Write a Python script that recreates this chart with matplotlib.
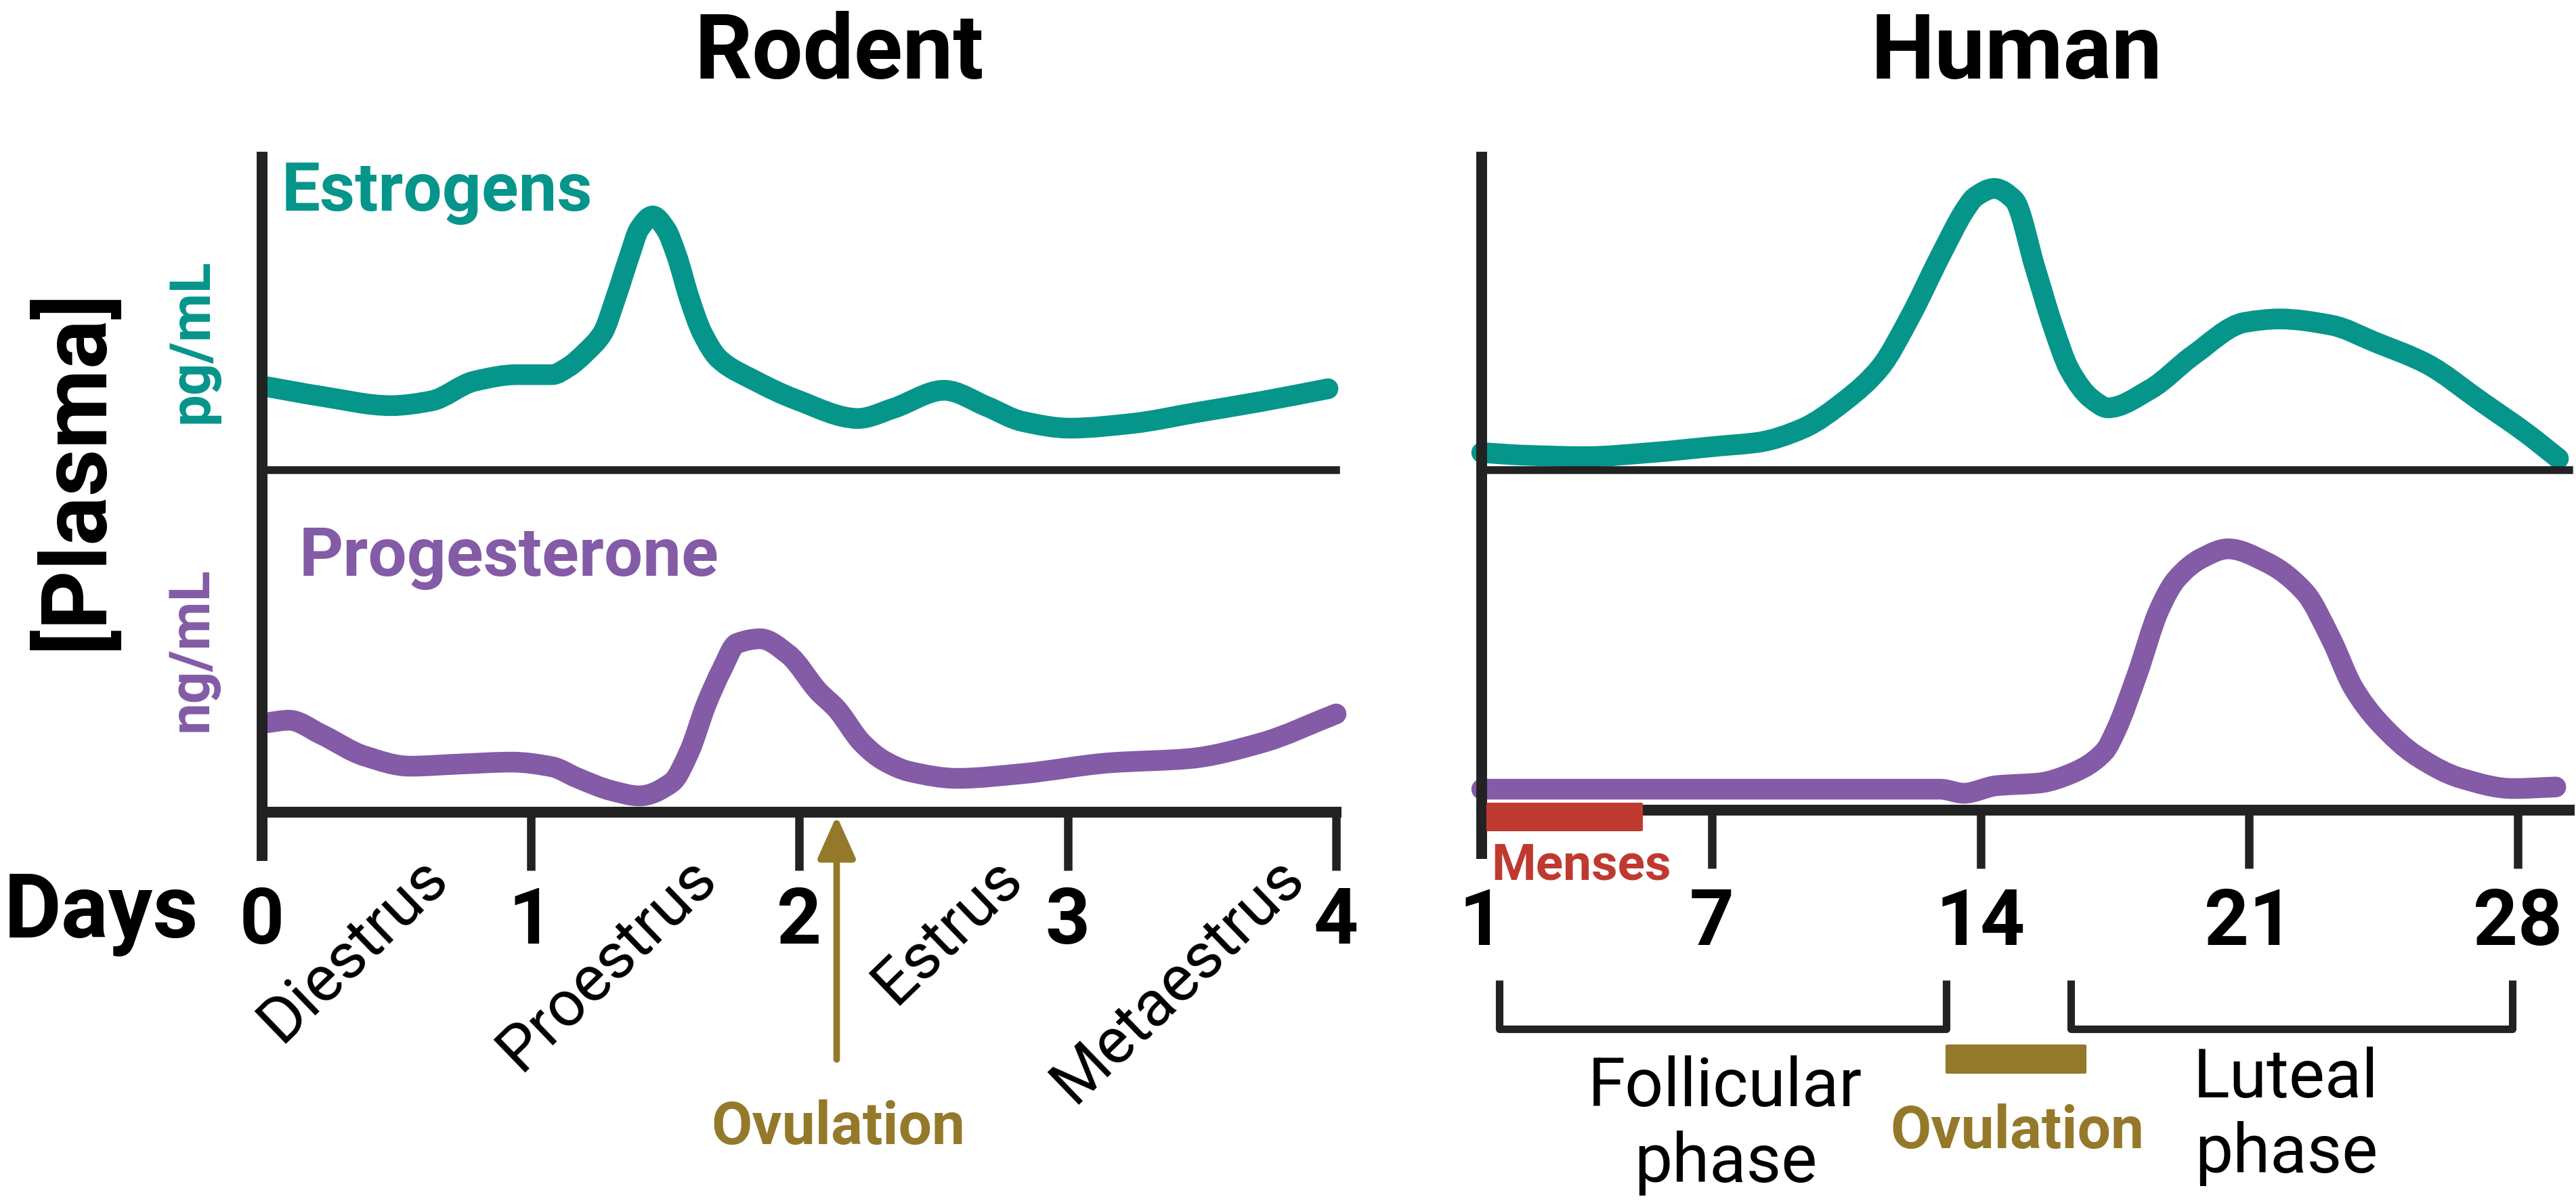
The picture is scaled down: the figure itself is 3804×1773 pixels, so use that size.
import matplotlib
matplotlib.use('Agg')
import matplotlib.pyplot as plt
from matplotlib.transforms import blended_transform_factory, Affine2D
from matplotlib.patches import Rectangle, PathPatch
from matplotlib.path import Path

plt.rcParams['font.family'] = ['Roboto', 'DejaVu Sans']

# ---------------- data ----------------
rodent_ticks = [0, 1, 2, 3, 4]
rodent_ticklabels = ['0', '1', '2', '3', '4']
rodent_phases = ['Diestrus', 'Proestrus', 'Estrus', 'Metaestrus']

rodent_est_days = [0.02, 0.22, 0.48, 0.63, 0.79, 0.95, 1.08, 1.14, 1.206, 1.269, 1.317,
                   1.369, 1.405, 1.455, 1.503, 1.544, 1.591, 1.639, 1.702, 1.831, 1.99,
                   2.22, 2.35, 2.54, 2.70, 2.83, 3.01, 3.24, 3.48, 3.72, 3.97]
rodent_est = [26.6, 23.6, 20.6, 22.1, 28.4, 30.5, 30.5, 32.9, 37.7, 43.9, 55.0,
              68.6, 77.1, 81.2, 77.1, 68.6, 55.0, 43.9, 35.5, 28.8, 22.5,
              16.5, 19.7, 25.5, 20.3, 15.6, 13.4, 14.9, 18.4, 21.9, 26.0]

rodent_prog_days = [0.02, 0.10, 0.22, 0.38, 0.55, 0.74, 0.93, 1.08, 1.173, 1.301, 1.405,
                    1.526, 1.591, 1.654, 1.712, 1.768, 1.856, 1.96, 2.073, 2.139, 2.235,
                    2.315, 2.411, 2.59, 2.83, 3.16, 3.45, 3.72, 4.0]
rodent_prog = [28.6, 29.4, 24.9, 18.0, 14.7, 15.4, 16.0, 14.5, 11.0, 6.9, 5.2,
               9.5, 19.3, 34.4, 45.5, 53.9, 55.4, 50.4, 38.5, 33.1, 22.1,
               16.5, 13.0, 10.8, 12.3, 15.8, 17.1, 22.1, 31.4]

human_ticks = [1, 7, 14, 21, 28]
human_ticklabels = ['1', '7', '14', '21', '28']

human_est_days = [1.0, 2.04, 3.72, 5.41, 7.11, 8.22, 9.35, 10.48, 11.38, 12.17, 12.95,
                  13.63, 13.85, 14.36, 14.87, 15.43, 15.88, 16.33, 16.88, 17.32,
                  18.42, 19.55, 20.89, 21.79, 23.15, 24.28, 25.62, 27.08, 28.21, 29.06]
human_est = [5.6, 4.8, 4.3, 5.6, 7.6, 8.9, 13.2, 22.3, 32.7, 49.1, 68.4,
             83.8, 87.2, 90.0, 86.4, 64.3, 46.3, 31.8, 22.9, 19.9,
             25.8, 36.8, 47.2, 48.3, 46.3, 40.9, 34.0, 21.6, 11.9, 3.7]

human_prog_days = [1.0, 6.5, 11.9, 12.95, 13.56, 14.41, 15.54, 16.44, 17.23, 17.52,
                   18.08, 18.65, 19.09, 19.76, 20.45, 21.45, 22.46, 23.15, 23.71,
                   24.38, 25.39, 26.52, 27.87, 28.99]
human_prog = [6.7, 6.7, 6.7, 6.7, 5.4, 7.8, 8.7, 12.1, 18.8, 25.3,
              43.3, 63.9, 73.6, 80.5, 83.5, 79.2, 69.5, 54.3, 39.2,
              28.1, 17.1, 10.2, 6.9, 7.4]

menses_days = (1.15, 5.17)
ovulation_days = (13.12, 16.72)
follicular_days = (1.46, 13.1)
luteal_days = (16.35, 27.86)

# ---------------- style ----------------
W, H = 3804, 1774
DARK = '#222222'
TEAL = '#06958B'
PURPLE = '#835BA6'
RED = '#BE3A31'
GOLD = '#95792B'
PXU = 4.62  # pixels per value unit
LW = 22

fig = plt.figure(figsize=(W / 100, H / 100), dpi=100)
px = Affine2D().scale(1, -1).translate(0, H)  # (x px, y px from top) -> display


def rect(x0, yt, x1, yb):
    return [x0 / W, 1 - yb / H, (x1 - x0) / W, (yb - yt) / H]


def make_panel(x0, x1, xlim, base_bottom, ticks, ticklabels, pad):
    axT = fig.add_axes(rect(x0, 233, x1, 695))
    axB = fig.add_axes(rect(x0, 695, x1, base_bottom))
    for ax in (axT, axB):
        ax.set_xlim(*xlim)
        ax.patch.set_visible(False)
        for s in ('top', 'right'):
            ax.spines[s].set_visible(False)
        ax.spines['left'].set_color(DARK)
        ax.spines['bottom'].set_color(DARK)
        ax.set_yticks([])
    axT.set_ylim(0, (695 - 233) / PXU)
    axB.set_ylim(0, (base_bottom - 695) / PXU)
    axT.spines['left'].set_linewidth(11.5)
    axT.spines['bottom'].set_linewidth(8.3)
    axB.spines['left'].set_linewidth(11.5)
    axB.spines['bottom'].set_linewidth(11.5)
    axT.set_xticks([])
    axB.set_xticks(ticks)
    axB.set_xticklabels(ticklabels, fontsize=83, fontweight='bold')
    axB.tick_params(axis='x', length=62, width=9, color=DARK, pad=pad,
                    direction='out')
    axB.xaxis.get_major_ticks()[0].tick1line.set_visible(False)
    axB.axvline(xlim[0], ymin=-72 / (base_bottom - 695), ymax=0, color=DARK,
                lw=11.5, clip_on=False, solid_capstyle='butt')
    return axT, axB


def smooth_curve(ax, xs, ys, color):
    """Draw a smooth (monotone cubic Bezier) curve through the read points."""
    n = len(xs)
    d = [(ys[i + 1] - ys[i]) / (xs[i + 1] - xs[i]) for i in range(n - 1)]
    m = [d[0]] + [0.0] * (n - 2) + [d[-1]]
    for i in range(1, n - 1):
        if d[i - 1] * d[i] <= 0:
            m[i] = 0.0
        else:
            h0 = xs[i] - xs[i - 1]
            h1 = xs[i + 1] - xs[i]
            w1 = 2 * h1 + h0
            w2 = h1 + 2 * h0
            m[i] = (w1 + w2) / (w1 / d[i - 1] + w2 / d[i])
    verts = [(xs[0], ys[0])]
    codes = [Path.MOVETO]
    for i in range(n - 1):
        h = xs[i + 1] - xs[i]
        verts += [(xs[i] + h / 3, ys[i] + m[i] * h / 3),
                  (xs[i + 1] - h / 3, ys[i + 1] - m[i + 1] * h / 3),
                  (xs[i + 1], ys[i + 1])]
        codes += [Path.CURVE4] * 3
    ax.add_patch(PathPatch(Path(verts, codes), facecolor='none', edgecolor=color,
                           lw=LW, capstyle='round', joinstyle='round',
                           clip_on=False, zorder=2))


# ---------------- Rodent ----------------
axLT, axLB = make_panel(387, 1973, (0, 4), 1200, rodent_ticks, rodent_ticklabels, 15)
smooth_curve(axLT, rodent_est_days, rodent_est, TEAL)
smooth_curve(axLB, rodent_prog_days, rodent_prog, PURPLE)

tL = blended_transform_factory(axLB.transData, px)
for lab, d in zip(rodent_phases, [0.70, 1.70, 2.84, 3.89]):
    axLB.text(d, 1300, lab, transform=tL, rotation=44, rotation_mode='anchor',
              ha='right', va='baseline', fontsize=68, color='black')

axLB.annotate('', xy=(2.14, H - 1205), xycoords=('data', 'figure pixels'),
              xytext=(2.14, H - 1565), textcoords=('data', 'figure pixels'),
              arrowprops=dict(arrowstyle='-|>,head_length=3.8,head_width=1.7',
                              color=GOLD, lw=7, shrinkA=0, shrinkB=0,
                              mutation_scale=10))
axLB.text(2.145, 1689, 'Ovulation', transform=tL, ha='center', va='baseline',
          fontsize=63, fontweight='bold', color=GOLD)

# ---------------- Human ----------------
axRT, axRB = make_panel(2188, 3794, (1, 29.34), 1197, human_ticks, human_ticklabels, 19)
smooth_curve(axRT, human_est_days, human_est, TEAL)
smooth_curve(axRB, human_prog_days, human_prog, PURPLE)

tR = blended_transform_factory(axRB.transData, px)
axRB.add_patch(Rectangle((menses_days[0], 1188), menses_days[1] - menses_days[0], 38,
                         transform=tR, facecolor=RED, edgecolor=RED, lw=3,
                         joinstyle='round', clip_on=False, zorder=4))
axRB.text(1.25, 1299, 'Menses', transform=tR, ha='left', va='baseline',
          fontsize=54, fontweight='bold', color=RED)

for a, b in (follicular_days, luteal_days):
    axRB.plot([a, a, b, b], [1448, 1520, 1520, 1448], transform=tR, color=DARK,
              lw=8, solid_joinstyle='round', solid_capstyle='butt', clip_on=False)

axRB.add_patch(Rectangle((ovulation_days[0], 1545), ovulation_days[1] - ovulation_days[0], 39,
                         transform=tR, facecolor=GOLD, edgecolor=GOLD, lw=3,
                         joinstyle='round', clip_on=False, zorder=4))
axRB.text(14.96, 1695, 'Ovulation', transform=tR, ha='center', va='baseline',
          fontsize=63, fontweight='bold', color=GOLD)
axRB.text(7.35, 1633, 'Follicular', transform=tR, ha='center', va='baseline', fontsize=72)
axRB.text(7.35, 1745, 'phase', transform=tR, ha='center', va='baseline', fontsize=72)
axRB.text(21.96, 1620, 'Luteal', transform=tR, ha='center', va='baseline', fontsize=72)
axRB.text(21.96, 1731, 'phase', transform=tR, ha='center', va='baseline', fontsize=72)

# ---------------- figure-level text ----------------
def ftext(x, y, s, **kw):
    fig.text(x / W, 1 - y / H, s, **kw)

ftext(1239, 116, 'Rodent', ha='center', va='baseline', fontsize=96, fontweight='bold')
ftext(2978, 116, 'Human', ha='center', va='baseline', fontsize=96, fontweight='bold')
ftext(6, 1384, 'Days', ha='left', va='baseline', fontsize=94, fontweight='bold')
ftext(150, 692, '[Plasma]', ha='center', va='baseline', rotation=90,
      rotation_mode='anchor', fontsize=98, fontweight='bold')
ftext(306, 504, 'pg/mL', ha='center', va='baseline', rotation=90,
      rotation_mode='anchor', fontsize=60, fontweight='bold', color=TEAL)
ftext(306, 959, 'ng/mL', ha='center', va='baseline', rotation=90,
      rotation_mode='anchor', fontsize=60, fontweight='bold', color=PURPLE)
ftext(416, 311, 'Estrogens', ha='left', va='baseline', fontsize=73,
      fontweight='bold', color=TEAL)
ftext(442, 850, 'Progesterone', ha='left', va='baseline', fontsize=73,
      fontweight='bold', color=PURPLE)

fig.savefig('out.png', dpi=100, facecolor='white')
